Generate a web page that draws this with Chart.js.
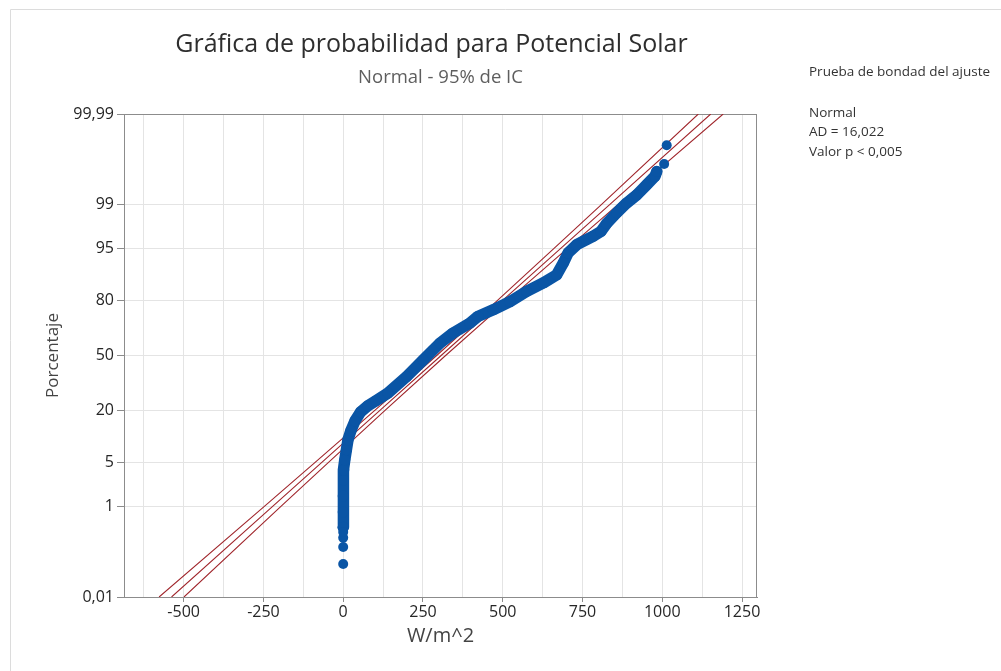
<!DOCTYPE html>
<html>
<head>
<meta charset="utf-8">
<title>Gráfica de probabilidad para Potencial Solar</title>
<script src="https://cdn.jsdelivr.net/npm/chart.js@4.4.1/dist/chart.umd.min.js"></script>
<style>
  html, body { margin: 0; padding: 0; background: #ffffff; }
  canvas { display: block; }
</style>
</head>
<body>
<canvas id="chart" width="1001" height="671"></canvas>
<script>
// Probability-axis ticks (percent) and their printed labels
const tickPercents = [0.01, 1, 5, 20, 50, 80, 95, 99, 99.99];
const tickLabels = ['0,01', '1', '5', '20', '50', '80', '95', '99', '99,99'];

// Horizontal axis: grid every 125, labels every 250
const xGridValues = [-625, -500, -375, -250, -125, 0, 125, 250, 375, 500, 625, 750, 875, 1000, 1125, 1250];
const xLabelValues = [-500, -250, 0, 250, 500, 750, 1000, 1250];
const xLabels = ['-500', '-250', '0', '250', '500', '750', '1000', '1250'];

// Observed solar potential (W/m^2) vs cumulative percent — dense middle of the sample
const solarValues = [0, 0, 0, 1, 2, 5, 10, 15, 24, 37, 55, 77, 102, 140, 199, 251, 303, 344, 397, 422,
  470, 523, 575, 627, 669, 690, 705, 732, 784, 808, 826, 857, 888, 920, 951, 977, 983];
const solarPercents = [0.41, 0.80, 1.53, 2.77, 3.9, 5.4, 7.3, 9.7, 12.3, 15.7, 19.3, 21.9, 24.2, 28.1, 37.3, 47.3, 57.5, 63.5, 69.1, 72.6,
  75.9, 79.7, 83.8, 86.8, 89.3, 92.3, 94.3, 95.6, 96.7, 97.2, 97.9, 98.6, 99.05, 99.33, 99.57, 99.71, 99.77];

// Separated observations in both tails
const tailValues = [0, 0, 0, 0, 1006, 1014];
const tailPercents = [0.066, 0.16, 0.25, 0.33, 99.84, 99.94];

// Fitted normal line with its 95% confidence bounds
const fitPercents = [0.01, 1, 5, 20, 50, 80, 95, 99, 99.99];
const fitValues = [-538, -222, -67, 116, 307, 498, 681, 836, 1152];
const lowerValues = [-577, -248, -88, 100, 293, 482, 660, 810, 1113];
const upperValues = [-499, -196, -46, 132, 321, 514, 702, 862, 1191];

// Goodness-of-fit summary
const gofHeading = 'Prueba de bondad del ajuste';
const gofLines = ['Normal', 'AD = 16,022', 'Valor p < 0,005'];

// Inverse of the standard normal CDF (Acklam's rational approximation)
function probit(p) {
  const a = [-3.969683028665376e+01, 2.209460984245205e+02, -2.759285104469687e+02, 1.383577518672690e+02, -3.066479806614716e+01, 2.506628277459239e+00];
  const b = [-5.447609879822406e+01, 1.615858368580409e+02, -1.556989798598866e+02, 6.680131188771972e+01, -1.328068155288572e+01];
  const c = [-7.784894002430293e-03, -3.223964580411365e-01, -2.400758277161838e+00, -2.549671010283550e+00, 4.374664141464968e+00, 2.938163982698783e+00];
  const d = [7.784695709041462e-03, 3.224671290700398e-01, 2.445134137142996e+00, 3.754408661907416e+00];
  const pl = 0.02425, ph = 1 - pl;
  let q, r;
  if (p < pl) {
    q = Math.sqrt(-2 * Math.log(p));
    return (((((c[0]*q + c[1])*q + c[2])*q + c[3])*q + c[4])*q + c[5]) / ((((d[0]*q + d[1])*q + d[2])*q + d[3])*q + 1);
  }
  if (p > ph) {
    q = Math.sqrt(-2 * Math.log(1 - p));
    return -(((((c[0]*q + c[1])*q + c[2])*q + c[3])*q + c[4])*q + c[5]) / ((((d[0]*q + d[1])*q + d[2])*q + d[3])*q + 1);
  }
  q = p - 0.5; r = q * q;
  return (((((a[0]*r + a[1])*r + a[2])*r + a[3])*r + a[4])*r + a[5])*q / (((((b[0]*r + b[1])*r + b[2])*r + b[3])*r + b[4])*r + 1);
}

const toPoints = (xs, ps) => xs.map((x, i) => ({ x: x, y: probit(ps[i] / 100) }));

const FONT = "'Open Sans', 'Noto Sans', 'DejaVu Sans', sans-serif";
const BLUE = '#0a55a5';
const RED = '#a0262c';
const GRID = '#e4e4e4';
const AXIS = '#8c8c8c';

// Page decorations: outer frame, plot box, titles and the summary panel
const decor = {
  id: 'decor',
  beforeDraw(chart) {
    const ctx = chart.ctx;
    ctx.save();
    ctx.strokeStyle = '#dcdcdc';
    ctx.lineWidth = 1;
    ctx.beginPath();
    ctx.moveTo(10.5, chart.height);
    ctx.lineTo(10.5, 9.5);
    ctx.lineTo(chart.width, 9.5);
    ctx.stroke();
    ctx.restore();
  },
  beforeDatasetsDraw(chart) {
    const { ctx, chartArea: a } = chart;
    ctx.save();
    ctx.strokeStyle = AXIS;
    ctx.lineWidth = 1;
    ctx.strokeRect(Math.round(a.left) + 0.5, Math.round(a.top) + 0.5, Math.round(a.right - a.left) - 1, Math.round(a.bottom - a.top));
    ctx.restore();
  },
  afterDraw(chart) {
    const { ctx, chartArea: a } = chart;
    const mid = (a.left + a.right) / 2;
    ctx.save();
    ctx.textAlign = 'center';
    ctx.textBaseline = 'alphabetic';
    ctx.fillStyle = '#2e2e2e';
    ctx.font = '25px ' + FONT;
    ctx.fillText('Gráfica de probabilidad para Potencial Solar', mid - 9, 52);
    ctx.fillStyle = '#5e5e5e';
    ctx.font = '18.5px ' + FONT;
    ctx.fillText('Normal - 95% de IC', mid, 83);

    ctx.textAlign = 'left';
    ctx.textBaseline = 'middle';
    ctx.fillStyle = '#333333';
    ctx.font = '13.5px ' + FONT;
    ctx.fillText(gofHeading, 809, 72);
    const ys = [113, 132, 152];
    gofLines.forEach((t, i) => ctx.fillText(t, 809, ys[i]));
    ctx.restore();
  }
};

new Chart(document.getElementById('chart'), {
  type: 'scatter',
  data: {
    datasets: [
      {
        label: 'tails',
        data: toPoints(tailValues, tailPercents),
        pointRadius: 5,
        pointHoverRadius: 5,
        pointBorderWidth: 0,
        pointBackgroundColor: BLUE,
        showLine: false
      },
      {
        label: 'Potencial Solar',
        data: toPoints(solarValues, solarPercents),
        showLine: true,
        borderColor: BLUE,
        borderWidth: 11.5,
        borderCapStyle: 'round',
        borderJoinStyle: 'round',
        pointRadius: 5.5,
        pointHoverRadius: 5.5,
        pointBorderWidth: 0,
        pointBackgroundColor: BLUE,
        tension: 0
      },
      {
        label: 'ajuste',
        data: toPoints(fitValues, fitPercents),
        showLine: true, borderColor: RED, borderWidth: 1.1, pointRadius: 0, tension: 0
      },
      {
        label: 'IC inferior',
        data: toPoints(lowerValues, fitPercents),
        showLine: true, borderColor: RED, borderWidth: 1.1, pointRadius: 0, tension: 0
      },
      {
        label: 'IC superior',
        data: toPoints(upperValues, fitPercents),
        showLine: true, borderColor: RED, borderWidth: 1.1, pointRadius: 0, tension: 0
      }
    ]
  },
  options: {
    responsive: false,
    animation: false,
    devicePixelRatio: 1,
    layout: { padding: { left: 39, right: 244, top: 114, bottom: 21 } },
    plugins: {
      legend: { display: false },
      tooltip: { enabled: false },
      title: { display: false }
    },
    scales: {
      x: {
        type: 'linear',
        min: -687,
        max: 1297,
        afterBuildTicks: s => { s.ticks = xGridValues.map(v => ({ value: v })); },
        afterFit: s => { s.height = 53; },
        ticks: {
          autoSkip: false,
          maxRotation: 0,
          padding: 1,
          color: '#262626',
          font: { family: FONT, size: 16 },
          callback: v => { const i = xLabelValues.indexOf(v); return i >= 0 ? xLabels[i] : ''; }
        },
        grid: {
          color: GRID,
          lineWidth: 1,
          tickLength: 5,
          tickColor: c => (c.tick && xLabelValues.indexOf(c.tick.value) >= 0) ? AXIS : 'rgba(0,0,0,0)'
        },
        border: { color: AXIS, width: 1 },
        title: {
          display: true,
          text: 'W/m^2',
          color: '#444444',
          font: { family: FONT, size: 20 },
          padding: { top: 4, bottom: 2 }
        }
      },
      y: {
        type: 'linear',
        min: probit(0.0001),
        max: probit(0.9999),
        afterBuildTicks: s => { s.ticks = tickPercents.map(p => ({ value: probit(p / 100) })); },
        afterFit: s => { s.width = 85; },
        ticks: {
          autoSkip: false,
          padding: 3,
          color: '#262626',
          font: { family: FONT, size: 16 },
          callback: (v, i) => tickLabels[i]
        },
        grid: { color: GRID, lineWidth: 1, tickLength: 7, tickColor: AXIS },
        border: { color: AXIS, width: 1 },
        title: {
          display: true,
          text: 'Porcentaje',
          color: '#444444',
          font: { family: FONT, size: 17 },
          padding: { top: 4, bottom: 4 }
        }
      }
    }
  },
  plugins: [decor]
});
</script>
</body>
</html>
